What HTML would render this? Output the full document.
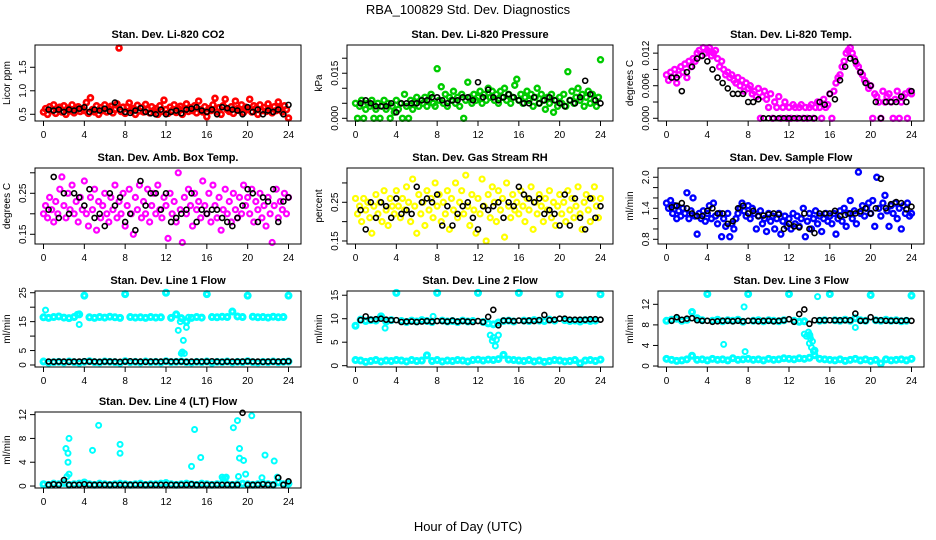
<!DOCTYPE html>
<html><head><meta charset="utf-8"><style>
body{margin:0;background:#fff}
svg{display:block;font-family:"Liberation Sans",Arial,sans-serif}
</style></head><body>
<svg id="chart" width="936" height="540" viewBox="0 0 936 540" xmlns="http://www.w3.org/2000/svg">
<rect width="936" height="540" fill="#fff"/>
<text x="468" y="14" text-anchor="middle" font-size="13">RBA_100829  Std. Dev. Diagnostics</text>
<text x="468" y="531" text-anchor="middle" font-size="13">Hour of Day (UTC)</text>
</svg>
<script>
// ---- data (colored: step 0.2h from 0; black: step 0.5h from 0.5) ----
const co2Color=[0.55,0.62,0.5,0.66,0.58,0.7,0.52,0.6,0.65,0.55,0.68,0.5,0.63,0.57,0.7,0.53,0.6,0.66,0.56,0.62,0.58,0.75,0.52,0.85,0.6,0.55,0.68,0.5,0.64,0.58,0.7,0.55,0.62,0.67,0.53,0.6,0.72,1.91,0.56,0.65,0.52,0.66,0.74,0.58,0.62,0.5,0.69,0.57,0.64,0.55,0.71,0.6,0.53,0.66,0.58,0.62,0.5,0.68,0.56,0.8,0.6,0.52,0.65,0.58,0.7,0.54,0.62,0.67,0.5,0.6,0.72,0.56,0.64,0.58,0.68,0.53,0.78,0.6,0.55,0.66,0.45,0.62,0.58,0.7,0.84,0.55,0.64,0.5,0.68,0.82,0.6,0.56,0.66,0.52,0.78,0.62,0.58,0.7,0.54,0.65,0.6,0.82,0.55,0.68,0.62,0.5,0.7,0.58,0.64,0.56,0.72,0.6,0.53,0.66,0.58,0.76,0.62,0.55,0.68,0.6,0.42];
const co2Black=[0.6,0.58,0.6,0.55,0.6,0.58,0.62,0.65,0.55,0.6,0.58,0.62,0.56,0.75,0.6,0.55,0.53,0.58,0.63,0.55,0.52,0.5,0.6,0.5,0.55,0.58,0.52,0.6,0.62,0.65,0.58,0.55,0.6,0.5,0.65,0.63,0.6,0.58,0.5,0.65,0.55,0.6,0.5,0.58,0.55,0.6,0.5,0.7];
const presColor=[.005,0,.004,.006,0,.003,.005,.004,.006,0,.003,.005,0,.004,.006,.003,.005,0,.004,.002,.006,.003,.005,0,.008,.004,0,.006,.003,.005,.007,.004,.006,.005,.007,.004,.006,.008,.005,.004,.0165,.006,.0105,.005,.008,.004,.007,.006,.009,.005,.007,.004,.008,0,.006,.012,.007,.005,.008,.006,.007,.009,.005,.008,.006,.01,.007,.009,.006,.008,.005,.009,.007,.01,.006,.008,.005,.007,.011,.013,.006,.008,.005,.007,.009,.006,.008,.004,.007,.01,.005,.008,.006,.003,.007,.005,.008,.002,.006,.004,.007,.005,.008,.004,.0155,.006,.009,.005,.007,.01,.006,.008,.004,.007,.009,.005,.008,.006,.004,.007,.0195];
const presBlack=[.005,.006,.005,.004,.004,.004,.005,.002,.005,.005,.005,.005,.006,.006,.007,.007,.006,.005,.006,.006,.007,.007,.006,.012,.007,.0095,.007,.006,.007,.008,.007,.006,.005,.005,.007,.005,.006,.007,.006,.005,.004,.006,.005,.007,.0125,.008,.006,.005];
const tempColor=[.008,.007,.0085,.0075,.009,.0065,.008,.0095,.0085,.01,.0075,.0105,.0095,.011,.0105,.012,.0125,.0115,.013,.012,.0125,.013,.0115,.012,.0125,.011,.0095,.0105,.009,.008,.0085,.0075,.008,.007,.0065,.0075,.006,.007,.005,.0065,.0055,.006,.0045,.005,.004,.0055,0,.004,.005,.0035,.002,.0045,0,.003,.002,.004,0,.002,.003,0,.002,0,.0025,.002,0,.002,.0025,0,.002,0,.002,.0025,0,.002,.003,.002,0,.0035,.002,.0025,.0045,0,.005,.0065,.0075,.008,.0095,.0105,.012,.0125,.013,.012,.011,.01,.0095,.0085,.008,.007,.0065,.0055,.006,0,.0045,.004,.003,0,.005,.003,.004,.0045,.003,0,.0035,.005,0,.003,.004,.0045,0,.005,.0045];
const tempBlack=[.0075,.0075,.005,.0085,.0095,.011,.0115,.0105,.009,.0075,.0065,.0055,.0045,.0045,.0045,.003,.003,.0035,0,0,0,0,0,0,0,0,0,0,0,.003,.0025,.0045,.0035,.007,.0095,.011,.0105,.0085,.0065,.006,.003,0,.003,.003,.003,.004,.003,.005];
const ambColor=[.2,.22,.19,.24,.21,.18,.23,.2,.26,.29,.22,.19,.25,.21,.27,.2,.23,.18,.24,.21,.28,.2,.17,.24,.21,.26,.16,.23,.19,.22,.25,.2,.18,.24,.21,.27,.19,.23,.2,.25,.17,.22,.26,.2,.15,.24,.21,.27,.19,.23,.2,.26,.18,.22,.25,.2,.27,.21,.19,.24,.22,.14,.25,.2,.23,.18,.3,.21,.13,.24,.2,.26,.22,.17,.25,.21,.23,.19,.28,.22,.2,.25,.18,.27,.22,.19,.24,.16,.21,.26,.2,.23,.18,.25,.21,.19,.24,.2,.27,.22,.24,.2,.26,.18,.23,.21,.25,.19,.22,.17,.24,.2,.13,.22,.26,.19,.23,.21,.25,.2,.24];
const ambBlack=[.21,.29,.19,.25,.2,.25,.24,.22,.26,.19,.2,.17,.25,.22,.24,.18,.2,.16,.28,.22,.25,.25,.21,.25,.18,.19,.2,.21,.25,.18,.21,.2,.21,.21,.19,.18,.17,.19,.22,.26,.25,.18,.24,.23,.26,.18,.23,.24];
const rhColor=[.26,.22,.24,.2,.26,.23,.25,.21,.17,.24,.27,.22,.25,.2,.28,.23,.19,.26,.24,.22,.28,.24,.21,.26,.23,.29,.25,.2,.31,.24,.17,.27,.22,.25,.19,.28,.23,.26,.21,.3,.24,.27,.2,.25,.22,.28,.18,.26,.23,.3,.21,.25,.28,.22,.32,.24,.19,.27,.23,.17,.26,.22,.31,.24,.15,.27,.21,.29,.25,.2,.28,.23,.26,.16,.3,.24,.21,.27,.23,.25,.22,.28,.24,.2,.26,.23,.29,.18,.25,.22,.27,.24,.2,.26,.23,.28,.21,.25,.19,.24,.27,.22,.25,.2,.28,.23,.26,.21,.24,.29,.22,.18,.25,.27,.23,.2,.26,.29,.24,.21,.26];
const rhBlack=[.23,.18,.25,.21,.25,.24,.21,.26,.22,.23,.22,.29,.25,.26,.25,.27,.19,.24,.19,.22,.24,.25,.21,.18,.24,.23,.24,.25,.21,.25,.24,.29,.27,.26,.25,.26,.22,.23,.22,.19,.27,.19,.26,.21,.18,.26,.21,.24];
const flowColor=[1.5,1.4,1.55,1.3,1.45,1.2,1.35,1.25,1.4,1.3,1.7,1.2,1.35,1.6,1.25,0.9,1.3,1.2,1.35,1.15,1.3,1.45,1.2,1.5,1.25,1.1,1.3,0.85,1.2,1.05,1.3,0.85,1.1,1.0,1.2,1.3,1.4,1.5,1.35,1.25,1.45,1.2,1.4,1.3,1.0,1.25,1.35,1.1,1.2,0.95,1.3,1.15,1.25,1.0,1.2,1.3,0.9,1.15,1.25,1.05,1.2,1.0,1.3,1.1,1.25,1.05,1.2,1.4,0.85,1.15,1.3,1.0,1.2,1.35,1.1,1.25,0.95,1.2,1.3,1.15,1.25,1.1,1.3,0.9,1.2,1.35,1.15,1.4,1.05,1.3,1.55,1.2,1.35,1.1,2.1,1.3,1.45,1.25,1.4,1.5,1.3,1.55,1.05,2.0,1.4,1.25,1.5,1.65,1.35,1.05,1.45,1.3,1.5,1.2,1.4,1.0,1.45,1.3,1.5,1.25,1.3];
const flowBlack=[1.42,1.45,1.5,1.4,1.3,1.25,1.25,1.35,1.4,1.3,1.3,1.1,1.15,1.4,1.45,1.3,1.35,1.25,1.26,1.28,1.3,1.28,1.0,1.1,1.05,1.03,1.3,1.0,0.92,1.3,1.3,1.3,1.35,1.25,1.27,1.3,1.3,1.34,1.4,1.3,1.4,1.97,1.4,1.48,1.52,1.5,1.38,1.43];
// line flows: bands step 0.5h from 0
const l1High=[16.5,16.3,16.6,16.8,16.4,16.2,16.6,17.5,24,16.5,16.3,16.6,16.4,16.7,16.5,16.3,24.5,16.6,16.4,16.5,16.3,16.6,16.4,16.5,25,16.3,17.5,16.2,15,16.3,16.6,16.4,24.5,16.6,16.5,16.7,16.6,18.5,16.8,16.6,24,16.7,16.5,16.6,16.4,16.7,16.5,16.6,24];
const l1Low=[1.2,0.8,1,1.1,0.9,1.2,1,0.8,1.1,1.3,1,0.9,1.2,1.1,1,0.8,1.3,1,1.1,0.9,1.2,1,1.1,0.9,1.3,1,1.1,1.2,1,0.9,1.1,1,1.2,0.8,1.1,1,1.2,0.9,1.1,1,1.3,1,0.9,1.1,1,1.2,1,1.1,1.2];
const l1ExtraT=[0.2,3.5,3.3,13.2,13.4,13.5,13.6,13.8,13.7,14.0,14.2];
const l1ExtraV=[19,14,17.5,12,15,4,4.5,4,8.5,13,16.5];
const l1Black=[1.2,1.1,1.2,1.2,1.1,1.2,1.2,1.3,1.2,1.2,1.1,1.2,1.2,1.2,1.1,1.2,1.3,1.2,1.2,1.1,1.2,1.2,1.2,1.3,1.2,1.2,1.2,1.1,1.2,1.2,1.2,1.2,1.3,1.2,1.1,1.2,1.2,1.2,1.2,1.3,1.2,1.2,1.1,1.2,1.2,1.2,1.2,1.3];
const l2High=[8.5,9.8,9.5,9.7,9.6,10.5,9.4,9.7,15.5,9.5,9.3,9.6,9.4,9.7,9.5,9.3,15.5,9.6,9.4,9.5,9.3,9.6,9.4,9.5,15.5,9.3,9,8.8,9.2,9.5,9.6,9.4,15.5,9.6,9.5,9.7,9.6,9.5,9.8,9.6,15.2,9.7,9.5,9.6,9.4,9.7,9.5,9.6,15.2];
const l2Low=[1.2,1.1,0.8,1,1.2,0.9,1.1,1,1.2,1.1,0.9,1.2,1,1.1,2.2,1,1.2,0.9,1.1,1,1.2,1.1,0.9,1.2,1.3,1.1,1.3,1.2,1.4,2.3,1.3,1.2,1.1,1,1.2,0.9,1.1,0.8,1,1.2,1.1,0.9,1,1.2,0.5,1.1,1.2,1,1.3];
const l2ExtraT=[2.9,13.2,13.4,13.5,13.7,13.8,14.0,7.6];
const l2ExtraV=[8,6.5,5.3,6,4.2,5.5,6.5,10.5];
const l2Black=[9.7,10.5,9.8,9.9,10,9.8,9.7,9.7,9.3,9.4,9.4,9.3,9.4,9.5,9.4,9.5,9.5,9.4,9.6,9.4,9.5,9.4,9.3,9.5,9.3,10.4,11.9,8.6,9.6,9.6,9.5,9.6,9.5,9.6,9.5,9.7,10.8,9.7,9.8,10,10,9.8,9.8,9.8,9.8,9.9,9.9,9.8];
const l3High=[8.8,9,9.2,8.8,9,10.5,9.3,8.9,14,8.8,9,8.7,8.9,8.8,9,8.6,14,8.8,8.9,8.7,8.9,8.8,8.7,8.9,14,8.8,8.6,8.7,6,3,8.8,8.9,14,8.9,8.8,9,8.8,9.3,8.9,8.8,13.8,8.9,8.8,9,8.8,8.9,8.7,8.8,13.7];
const l3Low=[1.4,1.2,1,1.1,1.3,2,1.2,1.3,1.1,1.4,1.2,1.3,1.1,1.5,1.2,1.3,1.4,1.2,1.3,1.1,1.4,1.2,1.3,1.5,1.4,1.3,1.5,1.4,1.6,2.1,1.4,1.3,1.2,1.1,1.3,1,1.2,1.4,1.1,1.3,1,1.2,0.5,1.3,1.1,1.2,1.3,1.1,1.4];
const l3ExtraT=[13.5,13.7,13.9,14.0,14.1,14.2,14.3,14.4,14.8,7.6,7.7,5.6,2.5,18.5];
const l3ExtraV=[6.2,5.8,6.6,4.4,5.4,3.6,4.8,2.8,13.5,11.5,2.8,4.2,2,7.5];
const l3Black=[8.8,9.5,9,9.2,9.3,8.9,8.8,8.8,8.6,8.7,8.8,8.8,8.7,8.8,8.7,8.8,8.8,8.7,8.8,8.8,8.7,8.8,8.9,9.1,8.6,10.1,11,8.2,8.9,8.9,8.9,8.9,8.9,8.9,8.9,8.9,10.2,8.8,8.8,9.5,8.9,8.9,8.8,8.8,8.8,8.8,8.9,8.8];
const l4Base=[0.3,0.2,0.4,0.3,0.5,0.2,0.3,0.4,0.6,0.3,0.2,0.4,0.3,0.2,0.3,0.4,0.3,0.2,0.3,0.4,0.2,0.3,0.3,0.4,0.5,0.3,0.2,0.3,0.4,0.3,0.2,0.4,0.3,0.2,0.3,0.4,0.3,0.2,0.3,0.4,0.3,0.2,0.3,0.4,0.3,0.2,0.6,0.3,0.4];
const l4ExtraT=[2.2,2.4,2.5,2.4,2.5,2.3,4.8,5.4,7.5,7.5,14.5,14.8,15.4,17.5,17.8,18.6,19,19.2,19.2,19.6,19.8,19.1,20.4,21.4,21.7,22.6,22.9,17.6,17.9];
const l4ExtraV=[6.3,5.5,8,4,2,1.6,6,10.2,7,5.5,3.3,9.5,4.8,1.5,1.3,9.8,11,6.3,4.7,4.3,2,1.6,11.8,1.4,5.2,4.2,1.5,1.2,1.5];
const l4Black=[0.2,0.3,0.2,1.0,0.2,0.2,0.2,0.3,0.2,0.2,0.2,0.2,0.2,0.2,0.2,0.2,0.2,0.2,0.2,0.2,0.2,0.2,0.2,0.2,0.2,0.2,0.2,0.2,0.3,0.2,0.2,0.2,0.2,0.2,0.2,0.2,0.2,0.2,12.3,0.2,0.2,0.2,0.3,0.2,0.2,1.4,0.2,0.8];
const xTicks=[0,4,8,12,16,20,24];

const svg=document.getElementById('chart');
const NS='http://www.w3.org/2000/svg';
const colLeft=[35,347,658], rowTop=[45,168,291,412], W=266, H=76;
function mk(tag,attrs,parent){const e=document.createElementNS(NS,tag);for(const k in attrs)e.setAttribute(k,attrs[k]);(parent||svg).appendChild(e);return e;}

function panel(p){
  const L=colLeft[p.col],T=rowTop[p.row];
  const g=mk('g',{});
  
  
  const xs=t=>L+8.5+t*(245/24);
  const ys=v=>T+H-(v-p.lo)/(p.hi-p.lo)*H;
  const t=mk('text',{x:L+W/2,y:T-7,'text-anchor':'middle','font-size':'11','font-weight':'bold'},g);
  t.textContent=p.title;
  
  
  const yl=mk('text',{transform:`translate(${L-25},${T+H/2}) rotate(-90)`,'text-anchor':'middle','font-size':'10'},g);
  yl.textContent=p.ylab;
  
  
  const dots=mk('g',{fill:'none'},g);
  
  
  function pts(vals,start,step,color,times,w){
    vals.forEach((v,i)=>{
      const tt=times?times[i]:start+i*step;
      const c=mk('circle',{cx:xs(tt),cy:ys(v),r:2.5,stroke:color,'stroke-width':w},dots);
      
      
    });
  }
  p.series.forEach(s=>pts(s.v,s.start,s.step,s.c,s.t,s.w||1.6));
  const fr=mk('rect',{x:L,y:T,width:W,height:H,fill:'none',stroke:'#000','stroke-width':'1'},g);
  
  
  const xa=mk('g',{},g);
  
  
  mk('line',{x1:xs(0),x2:xs(24),y1:T+H,y2:T+H,stroke:'#000'},xa);
  xTicks.forEach(v=>{
    mk('line',{x1:xs(v),x2:xs(v),y1:T+H,y2:T+H+5,stroke:'#000'},xa);
    const tl=mk('text',{x:xs(v),y:T+H+17,'text-anchor':'middle','font-size':'10'},xa);
    tl.textContent=v;
    
    
  });
  const ya=mk('g',{},g);
  
  
  mk('line',{x1:L,x2:L,y1:ys(p.ticks[0]),y2:ys(p.ticks[p.ticks.length-1])},ya).setAttribute('stroke','#000');
  p.ticks.forEach(v=>{mk('line',{x1:L-5,x2:L,y1:ys(v),y2:ys(v),stroke:'#000'},ya);});
  p.labels.forEach(v=>{
    const tl=mk('text',{transform:`translate(${L-9},${ys(v)}) rotate(-90)`,'text-anchor':'middle','font-size':'10'},ya);
    tl.textContent=v.toFixed(p.dec);
    
    
  });
}
const K='#000';
panel({name:'panel-co2',col:0,row:0,title:'Stan. Dev. Li-820 CO2',ylab:'Licor ppm',lo:0.357,hi:1.974,ticks:[0.5,1,1.5],labels:[0.5,1,1.5],dec:1,
  series:[{v:co2Color,start:0,step:0.2,c:'#ff0000',w:2.6},{v:co2Black,start:0.5,step:0.5,c:K}]});
panel({name:'panel-pressure',col:1,row:0,title:'Stan. Dev. Li-820 Pressure',ylab:'kPa',lo:-0.0009,hi:0.0244,ticks:[0,.005,.01,.015,.02],labels:[0,.015],dec:3,
  series:[{v:presColor,start:0,step:0.2,c:'#00cc00',w:2.4},{v:presBlack,start:0.5,step:0.5,c:K}]});
panel({name:'panel-temp',col:2,row:0,title:'Stan. Dev. Li-820 Temp.',ylab:'degrees C',lo:-0.0005,hi:0.0135,ticks:[0,.003,.006,.009,.012],labels:[0,.006,.012],dec:3,
  series:[{v:tempColor,start:0,step:0.2,c:'#ff00ff',w:2.4},{v:tempBlack,start:0.5,step:0.5,c:K}]});
panel({name:'panel-amb-box-temp',col:0,row:1,title:'Stan. Dev. Amb. Box Temp.',ylab:'degrees C',lo:0.1263,hi:0.3117,ticks:[.15,.2,.25,.3],labels:[.15,.25],dec:2,
  series:[{v:ambColor,start:0,step:0.2,c:'#ff00ff',w:2.2},{v:ambBlack,start:0.5,step:0.5,c:K}]});
panel({name:'panel-rh',col:1,row:1,title:'Stan. Dev. Gas Stream RH',ylab:'percent',lo:0.1422,hi:0.3386,ticks:[.15,.2,.25,.3],labels:[.15,.25],dec:2,
  series:[{v:rhColor,start:0,step:0.2,c:'#ffff00',w:2.2},{v:rhBlack,start:0.5,step:0.5,c:K}]});
panel({name:'panel-sample-flow',col:2,row:1,title:'Stan. Dev. Sample Flow',ylab:'ml/min',lo:0.709,hi:2.179,ticks:[.8,1,1.2,1.4,1.6,1.8,2],labels:[.8,1.4,2],dec:1,
  series:[{v:flowColor,start:0,step:0.2,c:'#0000ff',w:2.4},{v:flowBlack,start:0.5,step:0.5,c:K}]});
panel({name:'panel-line1-flow',col:0,row:2,title:'Stan. Dev. Line 1 Flow',ylab:'ml/min',lo:-0.69,hi:25.6,ticks:[0,5,10,15,20,25],labels:[0,5,15,25],dec:0,
  series:[{v:l1High,start:0,step:0.5,c:'#00ffff',w:3},{v:l1Low,start:0,step:0.5,c:'#00ffff',w:3},{v:l1ExtraV,t:l1ExtraT,c:'#00ffff',w:2},{v:l1Black,start:0.5,step:0.5,c:K}]});
panel({name:'panel-line2-flow',col:1,row:2,title:'Stan. Dev. Line 2 Flow',ylab:'ml/min',lo:-0.28,hi:15.9,ticks:[0,5,10,15],labels:[0,5,10,15],dec:0,
  series:[{v:l2High,start:0,step:0.5,c:'#00ffff',w:3},{v:l2Low,start:0,step:0.5,c:'#00ffff',w:3},{v:l2ExtraV,t:l2ExtraT,c:'#00ffff',w:2},{v:l2Black,start:0.5,step:0.5,c:K}]});
panel({name:'panel-line3-flow',col:2,row:2,title:'Stan. Dev. Line 3 Flow',ylab:'ml/min',lo:-0.19,hi:14.59,ticks:[0,4,8,12],labels:[0,4,8,12],dec:0,
  series:[{v:l3High,start:0,step:0.5,c:'#00ffff',w:3},{v:l3Low,start:0,step:0.5,c:'#00ffff',w:3},{v:l3ExtraV,t:l3ExtraT,c:'#00ffff',w:2},{v:l3Black,start:0.5,step:0.5,c:K}]});
panel({name:'panel-line4-flow',col:0,row:3,title:'Stan. Dev. Line 4 (LT) Flow',ylab:'ml/min',lo:-0.33,hi:12.44,ticks:[0,4,8,12],labels:[0,4,8,12],dec:0,
  series:[{v:l4Base,start:0,step:0.5,c:'#00ffff',w:3},{v:l4ExtraV,t:l4ExtraT,c:'#00ffff',w:2},{v:l4Black,start:0.5,step:0.5,c:K}]});
</script>
</body></html>
